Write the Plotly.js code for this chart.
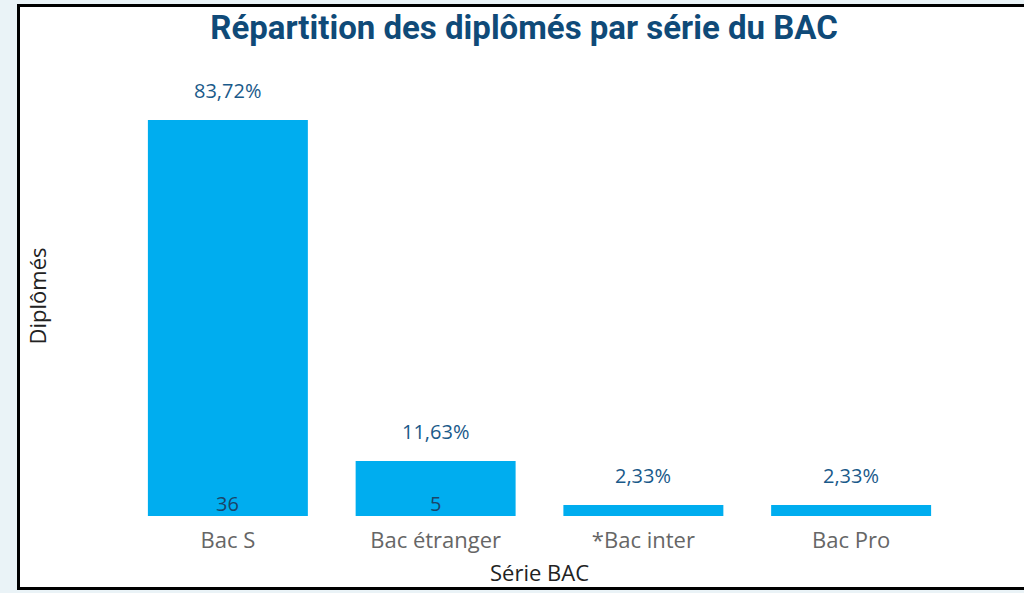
<!DOCTYPE html>
<html>
<head>
<meta charset="utf-8">
<script src="https://cdn.plot.ly/plotly-3.0.1.min.js"></script>
<style>
  html, body { margin: 0; padding: 0; width: 1024px; height: 593px; overflow: hidden; background: #EAF3F7; }
  #frame { position: absolute; left: 17px; top: 4px; width: 1020px; height: 586px; border: 3px solid #000; background: #fff; box-sizing: border-box; }
  #chart { position: absolute; left: 0; top: 0; width: 1024px; height: 593px; }
</style>
</head>
<body>
<div id="frame"></div>
<div id="chart"></div>
<script>
const categories = ["Bac S", "Bac étranger", "*Bac inter", "Bac Pro"];
const counts = [36, 5, 1, 1];
const percentLabels = ["83,72%", "11,63%", "2,33%", "2,33%"];

const barColor = "#00ADEF";
const labelColor = "#1A5A8A";

const annotations = [];
categories.forEach((c, i) => {
  annotations.push({
    x: c, y: counts[i], xref: "x", yref: "y",
    text: percentLabels[i], showarrow: false,
    yshift: 30, font: { family: "Open Sans, Noto Sans, sans-serif", size: 20, color: labelColor }
  });
  if (counts[i] >= 2) {
    annotations.push({
      x: c, y: 0, xref: "x", yref: "y",
      text: String(counts[i]), showarrow: false,
      yshift: 13, font: { family: "Open Sans, Noto Sans, sans-serif", size: 20, color: "#1B4468" }
    });
  }
});

const data = [{
  type: "bar",
  x: categories,
  y: counts,
  marker: { color: barColor },
  width: 0.77,
  hoverinfo: "none"
}];

const layout = {
  width: 1024, height: 593,
  margin: { l: 124, r: 69, t: 76, b: 77 },
  paper_bgcolor: "rgba(0,0,0,0)",
  plot_bgcolor: "rgba(0,0,0,0)",
  showlegend: false,
  title: {
    text: "<b>Répartition des diplômés par série du BAC</b>",
    font: { family: "Roboto, sans-serif", size: 33, color: "#0F4A78" },
    x: 524 / 1024, xanchor: "center", xref: "container",
    y: 1 - 27 / 593, yanchor: "middle", yref: "container"
  },
  xaxis: {
    type: "category",
    showgrid: false, zeroline: false, showline: false, ticks: "",
    tickfont: { family: "Open Sans, Noto Sans, sans-serif", size: 22, color: "#666666" },
    ticklabelstandoff: 9,
    title: { text: "Série BAC", font: { family: "Open Sans, Noto Sans, sans-serif", size: 22, color: "#222222" }, standoff: 12 }
  },
  yaxis: {
    range: [0, 40],
    showgrid: false, zeroline: false, showline: false, ticks: "",
    showticklabels: false,
    title: { text: "Diplômés", font: { family: "Open Sans, Noto Sans, sans-serif", size: 22, color: "#222222" }, standoff: 70 }
  },
  annotations: annotations
};

Plotly.newPlot("chart", data, layout, { displayModeBar: false, staticPlot: true });
</script>
</body>
</html>
